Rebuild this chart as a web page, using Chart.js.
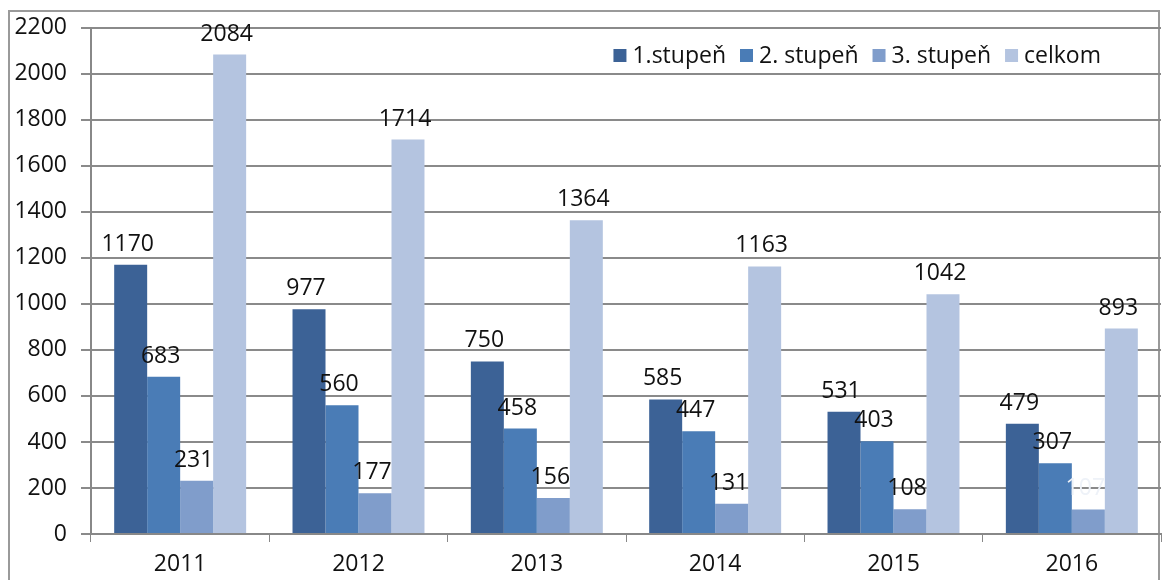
<!DOCTYPE html>
<html>
<head>
<meta charset="utf-8">
<script src="https://cdn.jsdelivr.net/npm/chart.js@4.4.1/dist/chart.umd.min.js"></script>
<style>
  html, body { margin: 0; padding: 0; background: #fff; }
  #wrap { position: relative; width: 1162px; height: 580px; }
  #frame { position: absolute; left: 8px; top: 10px; width: 1152px; height: 600px;
           border: 2px solid #9a9a9a; box-sizing: border-box; }
  canvas { position: absolute; left: 0; top: 0; }
</style>
</head>
<body>
<div id="wrap">
  <div id="frame"></div>
  <canvas id="chart" width="1162" height="580"></canvas>
</div>
<script>
// data
const years = ['2011', '2012', '2013', '2014', '2015', '2016'];
const stupen1 = [1170, 977, 750, 585, 531, 479];
const stupen2 = [683, 560, 458, 447, 403, 307];
const stupen3 = [231, 177, 156, 131, 108, 107];
const celkom = [2084, 1714, 1364, 1163, 1042, 893];
const seriesNames = ['1.stupeň', '2. stupeň', '3. stupeň', 'celkom'];

const colors = ['#3c6296', '#4a7cb6', '#809dcb', '#b4c4e0'];
const FONT = '"Open Sans", "DejaVu Sans", sans-serif';

// value labels above each bar
const barLabels = {
  id: 'barLabels',
  afterDatasetsDraw(chart) {
    const ctx = chart.ctx;
    ctx.save();
    ctx.font = '23px ' + FONT;
    ctx.textAlign = 'center';
    ctx.textBaseline = 'bottom';
    chart.data.datasets.forEach((ds, i) => {
      chart.getDatasetMeta(i).data.forEach((bar, j) => {
        ctx.fillStyle = (i === 2 && j === 5) ? '#eef2f8' : '#111';
        ctx.fillText(ds.data[j], bar.x - 3, bar.y - 9);
      });
    });
    ctx.restore();
  }
};

// legend drawn inside the plot, top right
const insideLegend = {
  id: 'insideLegend',
  afterDraw(chart) {
    const ctx = chart.ctx;
    ctx.save();
    ctx.font = '23px ' + FONT;
    ctx.textBaseline = 'middle';
    const y = 56;
    const gap = 14;
    const items = chart.data.datasets.map(d => ({ text: d.label, color: d.backgroundColor }));
    let total = 0;
    items.forEach(it => { it.w = 13 + 6 + ctx.measureText(it.text).width; total += it.w; });
    total += gap * (items.length - 1);
    let x = chart.chartArea.right - 60 - total;
    items.forEach(it => {
      ctx.fillStyle = it.color;
      ctx.fillRect(x, y - 7, 13, 13);
      ctx.fillStyle = '#111';
      ctx.fillText(it.text, x + 19, y);
      x += it.w + gap;
    });
    ctx.restore();
  }
};

new Chart(document.getElementById('chart'), {
  type: 'bar',
  data: {
    labels: years,
    datasets: [stupen1, stupen2, stupen3, celkom].map((d, i) => ({
      label: seriesNames[i],
      data: d,
      backgroundColor: colors[i],
      categoryPercentage: 0.74,
      barPercentage: 1.0
    }))
  },
  options: {
    responsive: false,
    animation: false,
    layout: { padding: { top: 14, right: 1, left: 0, bottom: 0 } },
    plugins: {
      legend: { display: false },
      tooltip: { enabled: false }
    },
    scales: {
      x: {
        grid: { display: true, drawOnChartArea: false, offset: true, color: '#888', tickLength: 8 },
        border: { color: '#888', width: 2 },
        ticks: { font: { family: FONT, size: 23 }, color: '#111', padding: 9 },
        afterFit(s) { s.height = 46; }
      },
      y: {
        min: 0,
        max: 2200,
        ticks: {
          stepSize: 200,
          font: { family: FONT, size: 23 },
          color: '#111',
          padding: 14,
          callback: v => String(v)
        },
        grid: { color: '#8a8a8a', lineWidth: 2, tickLength: 10 },
        border: { color: '#888', width: 2 },
        afterFit(s) { s.width = 91; }
      }
    }
  },
  plugins: [barLabels, insideLegend]
});
</script>
</body>
</html>
